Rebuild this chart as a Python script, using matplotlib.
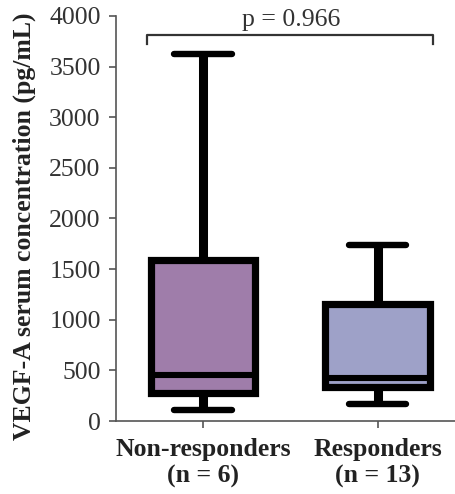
import matplotlib.pyplot as plt
import numpy as np

# VEGF-A serum levels (pg/mL) summary per group
groups = ["Non-responders\n(n = 6)", "Responders\n(n = 13)"]
whislo = [110, 168]
q1 = [280, 336]
med = [457, 420]
q3 = [1595, 1160]
whishi = [3620, 1738]
colors = ["#9f7daa", "#9ea1c8"]
p_text = "p = 0.966"

plt.rcParams['font.family'] = ['Liberation Serif', 'DejaVu Serif']

stats = []
for i in range(len(groups)):
    stats.append(dict(whislo=whislo[i], q1=q1[i], med=med[i], q3=q3[i],
                      whishi=whishi[i], fliers=[], label=groups[i]))

fig = plt.figure(figsize=(4.56, 4.94), dpi=100)
ax = fig.add_axes([116 / 456, 1 - 421 / 494, 1 - 116 / 456, 405 / 494])

bp = ax.bxp(stats, positions=[1, 2], widths=0.6, patch_artist=True,
            showfliers=False,
            boxprops=dict(linewidth=5.2, edgecolor='black'),
            medianprops=dict(linewidth=4.4, color='black', solid_capstyle='butt'),
            whiskerprops=dict(linewidth=6.5, color='black', solid_capstyle='butt'),
            capprops=dict(linewidth=4.6, color='black', solid_capstyle='round'),
            capwidths=0.33)
for patch, c in zip(bp['boxes'], colors):
    patch.set_facecolor(c)
    patch.set_joinstyle('miter')

ax.set_ylim(0, 4000)
ax.set_xlim(0.5, 2.45)
ax.set_yticks(np.arange(0, 4001, 500))
ax.tick_params(axis='y', labelsize=18.5, length=5, width=1.2, color='#555555',
               pad=6, labelcolor='#333333')
ax.tick_params(axis='x', labelsize=18.5, length=5, width=1.2, color='#555555',
               pad=7, labelcolor='#222222')
for lab in ax.get_xticklabels():
    lab.set_fontweight('bold')
for s in ['top', 'right']:
    ax.spines[s].set_visible(False)
for s in ['left', 'bottom']:
    ax.spines[s].set_color('#555555')
    ax.spines[s].set_linewidth(1.2)

ax.set_ylabel("VEGF-A serum concentration (pg/mL)", fontsize=18.5,
              fontweight='bold', color='#222222')
ax.yaxis.set_label_coords(-0.236, 0.482)

# significance bracket
by = 3812
x0, x1 = 0.678, 2.32
ax.plot([x0, x0, x1, x1], [by - 90, by, by, by - 90], color='#333333',
        lw=1.6, clip_on=False)
ax.text((x0 + x1) / 2 + 0.003, 3905, p_text, ha='center', va='baseline',
        fontsize=18.5, color='#333333')

fig.savefig("out.png", dpi=100)
